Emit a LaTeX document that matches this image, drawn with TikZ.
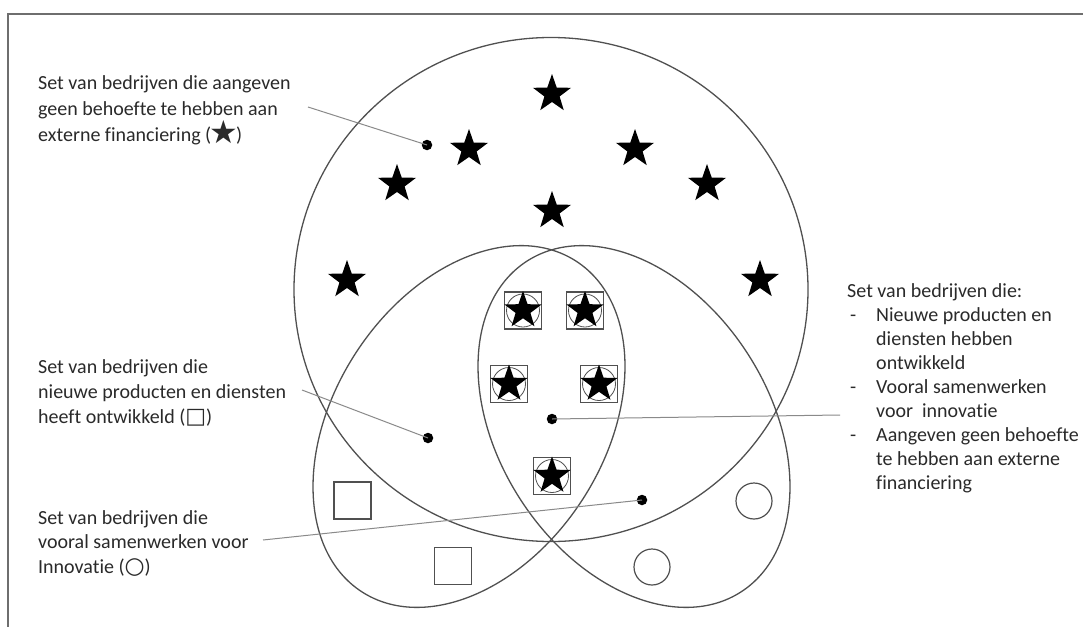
\documentclass[tikz,border=0pt]{standalone}
\usepackage{fontspec}
\setmainfont[Ligatures={NoCommon}]{Carlito}
\newfontfamily\symfont{DejaVu Sans}
\usetikzlibrary{shapes.geometric}
\definecolor{linec}{HTML}{505050}
\definecolor{leadc}{HTML}{8A8A8A}
\definecolor{txtc}{HTML}{2A2A2A}
\definecolor{framec}{HTML}{6E6E6E}
\tikzset{
  setline/.style={draw=linec, line width=1.3pt},
  leader/.style={draw=leadc, line width=1pt},
  dotmark/.style={circle, fill=black, inner sep=0pt, minimum size=10.5pt},
  starmark/.style={star, star points=5, star point ratio=2.5, fill=black, draw=none, inner sep=0pt, minimum size=40pt},
  sqmark/.style={rectangle, draw=linec, line width=1.2pt, minimum size=37pt, inner sep=0pt},
  circmark/.style={circle, draw=linec, line width=1.2pt, minimum size=36pt, inner sep=0pt},
  txt/.style={anchor=base west, inner sep=0pt, text=txtc, font=\fontsize{20}{25}\selectfont},
}
\begin{document}
\begin{tikzpicture}[x=1pt, y=-1pt]
\useasboundingbox[fill=white] (0,0) rectangle (1083,626);
% frame
\draw[draw=framec, line width=2pt] (8,640) -- (8,14.3) -- (1090,14.3);

% sets
\draw[setline] (551,289.5) ellipse [x radius=257, y radius=252];
\draw[setline, rotate around={57:(469,426.5)}] (469,426.5) ellipse [x radius=197, y radius=135];
\draw[setline, rotate around={-57:(634,426.5)}] (634,426.5) ellipse [x radius=197, y radius=135];

% stars
\node[starmark] (s1) at (552,94) {};
\node[starmark] (s2) at (469,149) {};
\node[starmark] (s3) at (635,149) {};
\node[starmark] (s4) at (397,184) {};
\node[starmark] (s5) at (707,184) {};
\node[starmark] (s6) at (552,211) {};
\node[starmark] (s7) at (347,280) {};
\node[starmark] (s8) at (760,280) {};

% combined marks
\foreach \n/\px/\py in {a/523/310.5, b/585/310.5, c/509/384, d/599/384, e/552/476}{
  \node[sqmark] (q\n) at (\px,\py) {};
  \node[circmark, minimum size=33pt, line width=0.8pt] (o\n) at (\px,\py) {};
  \node[starmark, minimum size=39pt] (x\n) at (\px,\py) {};
}

% squares and circles
\node[sqmark] (sq1) at (352.5,500.5) {};
\node[sqmark] (sq2) at (453,566) {};
\node[circmark] (ci1) at (754,501) {};
\node[circmark] (ci2) at (652,567) {};

% dots
\node[dotmark] (d1) at (427,145) {};
\node[dotmark] (d2) at (428,438) {};
\node[dotmark] (d3) at (552,419) {};
\node[dotmark] (d4) at (642,500) {};

% texts
\node[txt] (t1) at (38,89.5) {\vtop{\baselineskip=26pt
  \hbox{Set van bedrijven die aangeven}
  \hbox{geen behoefte te hebben aan}
  \hbox{externe financiering (\kern-2pt\raisebox{-2pt}{\fontsize{32}{32}\selectfont\symfont ★}\kern-2pt)}}};

\node[txt] (t2) at (38,373) {\vtop{\baselineskip=25pt
  \hbox{Set van bedrijven die}
  \hbox{nieuwe producten en diensten}
  \hbox{heeft ontwikkeld ({\fontsize{22}{22}\selectfont\symfont □})}}};

\node[txt] (t3) at (38,524) {\vtop{\baselineskip=24.5pt
  \hbox{Set van bedrijven die}
  \hbox{vooral samenwerken voor}
  \hbox{Innovatie ({\fontsize{23}{23}\selectfont\symfont ○})}}};

\node[txt] (t4) at (847,297) {\vtop{\baselineskip=24.1pt
  \hbox{Set van bedrijven die:}
  \hbox{\hbox to 29pt{\kern3pt-\hfil}Nieuwe producten en}
  \hbox{\hskip29pt diensten hebben}
  \hbox{\hskip29pt ontwikkeld}
  \hbox{\hbox to 29pt{\kern3pt-\hfil}Vooral samenwerken}
  \hbox{\hskip29pt voor\ \ innovatie}
  \hbox{\hbox to 29pt{\kern3pt-\hfil}Aangeven geen behoefte}
  \hbox{\hskip29pt te hebben aan externe}
  \hbox{\hskip29pt financiering}}};

% leader lines
\coordinate (e1) at (308,107);
\coordinate (e2) at (302,390);
\coordinate (e3) at (263,540);
\coordinate (e4) at (840,415);
\draw[leader] (e1) -- (d1.center);
\draw[leader] (e2) -- (d2.center);
\draw[leader] (e3) -- (d4.center);
\draw[leader] (d3.center) -- (e4);
\end{tikzpicture}
\end{document}
